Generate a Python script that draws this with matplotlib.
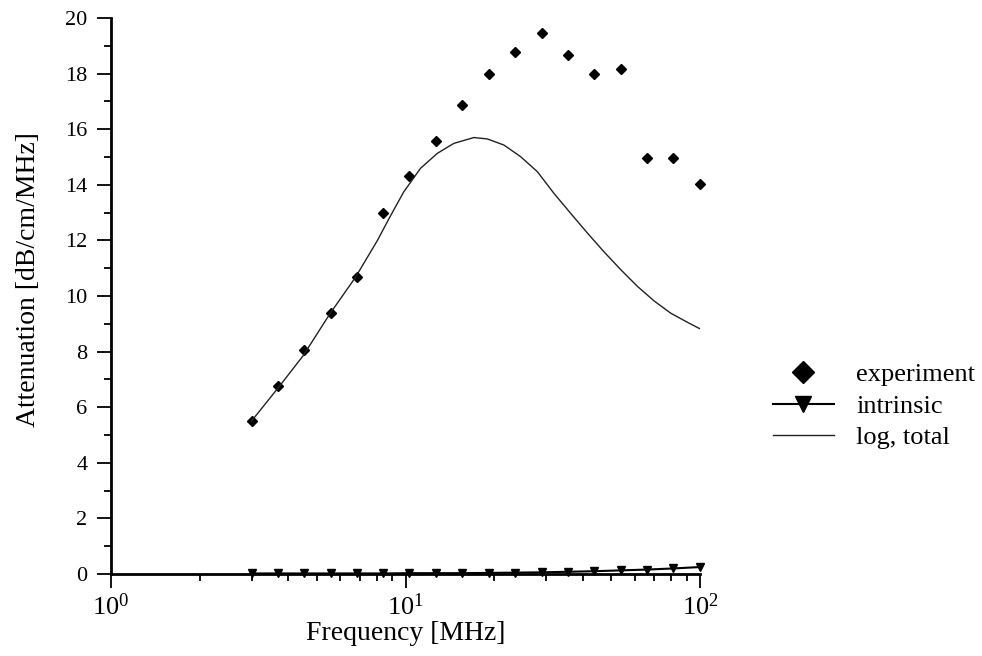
import matplotlib
matplotlib.use("Agg")
import matplotlib.pyplot as plt
from matplotlib.ticker import LogLocator, FixedLocator

plt.rcParams['font.family'] = ['Liberation Serif', 'DejaVu Serif']
plt.rcParams['mathtext.fontset'] = 'custom'
plt.rcParams['mathtext.rm'] = 'Liberation Serif'

# measured frequencies [MHz]
freq = [3.0, 3.69, 4.53, 5.57, 6.84, 8.41, 10.3, 12.7, 15.6, 19.2,
        23.6, 29.0, 35.6, 43.7, 53.8, 66.1, 81.2, 100.0]
experiment = [5.5, 6.77, 8.07, 9.38, 10.67, 13.0, 14.3, 15.58, 16.86, 17.97,
              18.77, 19.47, 18.67, 17.97, 18.17, 14.98, 14.98, 14.02]
intrinsic = [0.02, 0.02, 0.02, 0.02, 0.02, 0.02, 0.03, 0.03, 0.03, 0.04,
             0.05, 0.06, 0.08, 0.10, 0.13, 0.16, 0.20, 0.25]

# log, total curve
curve_f = [3.0, 3.71, 4.49, 5.53, 6.76, 8.01, 8.89, 9.87, 11.24, 12.82,
           14.59, 17.07, 18.96, 21.59, 24.61, 28.05, 31.93, 36.4, 41.5,
           47.2, 53.9, 61.4, 69.9, 79.6, 90.8, 100.0]
curve_v = [5.5, 6.72, 7.85, 9.35, 10.67, 11.98, 12.88, 13.75, 14.59, 15.13,
           15.49, 15.70, 15.65, 15.43, 15.01, 14.47, 13.69, 12.97, 12.26,
           11.59, 10.94, 10.34, 9.82, 9.38, 9.05, 8.82]

fig = plt.figure(figsize=(9.82, 6.56), dpi=100)
ax = fig.add_axes([111 / 982, 1 - 574 / 656, 589 / 982, 556 / 656])

ax.plot(freq, experiment, linestyle='none', marker='D', ms=5.5,
        color='black', label='experiment', clip_on=False)
ax.plot(freq, intrinsic, color='black', lw=1.5, marker='v', ms=6,
        label='intrinsic', clip_on=False)
ax.plot(curve_f, curve_v, color='#222222', lw=1.0, label='log, total')

ax.set_xscale('log')
ax.set_xlim(1, 100)
ax.set_ylim(0, 20)
ax.set_yticks(range(0, 21, 2))
ax.yaxis.set_minor_locator(FixedLocator(range(1, 20, 2)))
ax.xaxis.set_major_locator(LogLocator(base=10, numticks=5))
ax.xaxis.set_minor_locator(LogLocator(base=10, subs=range(2, 10), numticks=20))

for s in ['top', 'right']:
    ax.spines[s].set_visible(False)
for s in ['left', 'bottom']:
    ax.spines[s].set_linewidth(2)
ax.tick_params(which='major', length=10, width=1.3, direction='out')
ax.tick_params(which='minor', length=5, width=1.3, direction='out')
ax.tick_params(axis='y', labelsize=16, pad=7)
ax.tick_params(axis='x', labelsize=19, pad=4)

ax.set_xlabel('Frequency [MHz]', fontsize=20)
ax.xaxis.set_label_coords(0.5, -0.085)
ax.set_ylabel('Attenuation [dB/cm/MHz]', fontsize=20)
ax.yaxis.set_label_coords(-0.118, 0.529)

leg = ax.legend(loc='center left', bbox_to_anchor=(773 / 982, 1 - 406 / 656),
                bbox_transform=fig.transFigure, frameon=False, fontsize=19,
                markerscale=2.0, handlelength=2.3, handletextpad=0.85,
                labelspacing=0.3, borderpad=0, borderaxespad=0)

fig.savefig('out.png', dpi=100)
